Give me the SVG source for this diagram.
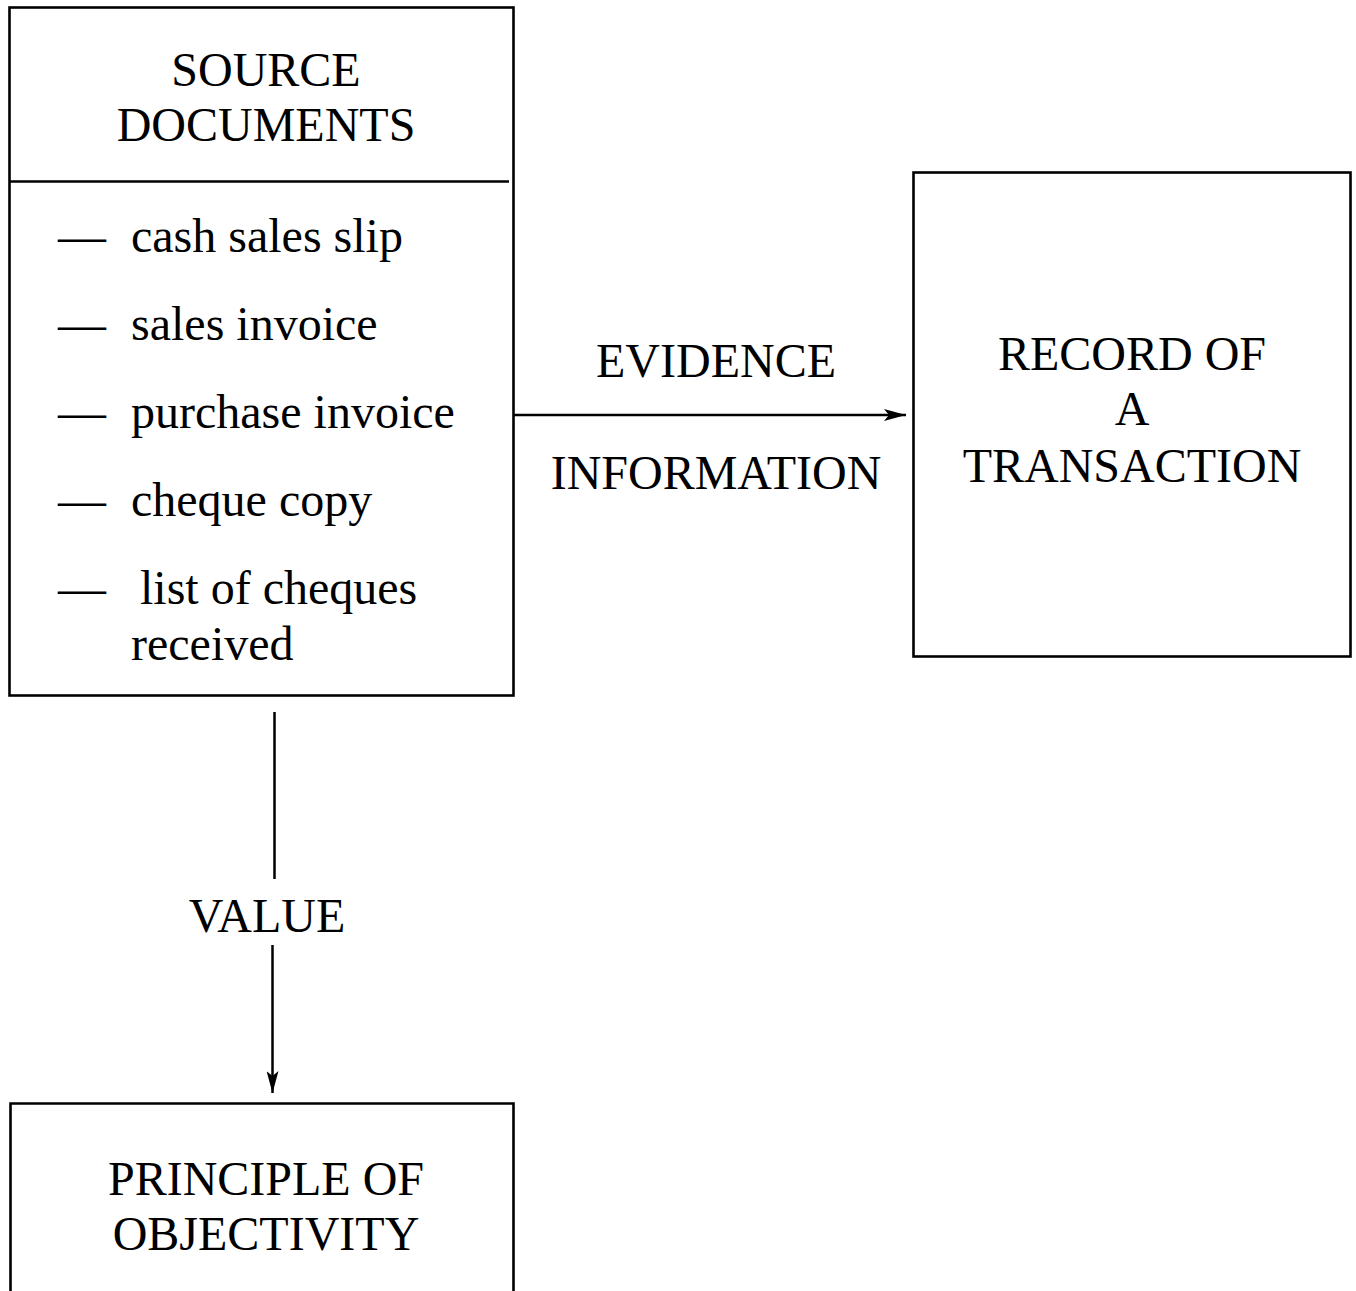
<svg xmlns="http://www.w3.org/2000/svg" width="1356" height="1291" viewBox="0 0 1356 1291">
  <style>
    .box { fill: none; stroke: #000; stroke-width: 2.6; }
    .edge { fill: none; stroke: #000; stroke-width: 2.5; }
    text { font-family: "Liberation Serif", "Times New Roman", serif; font-size: 48px; fill: #000; }
    .c { text-anchor: middle; }
  </style>
  <defs>
    <marker id="arrowLong" markerWidth="22" markerHeight="12" refX="22" refY="6" orient="auto" markerUnits="userSpaceOnUse" viewBox="0 0 22 12">
      <path d="M0,0 L22,6 L0,12 L5,6 Z" fill="#000"/>
    </marker>
  </defs>
  <rect width="1356" height="1291" fill="#fff"/>

  <g id="source-documents">
    <rect class="box" x="9.5" y="7.5" width="504" height="688"/>
    <line class="box" x1="9.5" y1="181.5" x2="509" y2="181.5"/>
    <text class="c" x="266" y="86">SOURCE</text>
    <text class="c" x="266" y="141">DOCUMENTS</text>
    <text x="58" y="252">—</text><text x="131" y="252">cash sales slip</text>
    <text x="58" y="340">—</text><text x="131" y="340">sales invoice</text>
    <text x="58" y="428">—</text><text x="131" y="428">purchase invoice</text>
    <text x="58" y="516">—</text><text x="131" y="516">cheque copy</text>
    <text x="58" y="604">—</text><text x="140" y="604">list of cheques</text>
    <text x="131" y="660">received</text>
  </g>

  <g id="record-of-transaction">
    <rect class="box" x="913.5" y="172.5" width="437" height="484"/>
    <text class="c" x="1132" y="370">RECORD OF</text>
    <text class="c" x="1132" y="425">A</text>
    <text class="c" x="1132" y="482">TRANSACTION</text>
  </g>

  <g id="principle-of-objectivity">
    <path class="box" d="M10.5,1300 V1103.5 H513.5 V1300"/>
    <text class="c" x="266" y="1195">PRINCIPLE OF</text>
    <text class="c" x="266" y="1250">OBJECTIVITY</text>
  </g>

  <g id="connectors">
    <line class="edge" x1="514" y1="415" x2="906" y2="415" marker-end="url(#arrowLong)"/>
    <text class="c" x="716" y="377">EVIDENCE</text>
    <text class="c" x="716" y="489">INFORMATION</text>
    <line class="edge" x1="274.5" y1="712" x2="274.5" y2="879"/>
    <text class="c" x="267" y="932">VALUE</text>
    <line class="edge" x1="272.5" y1="945" x2="272.5" y2="1093" marker-end="url(#arrowLong)"/>
  </g>
</svg>
